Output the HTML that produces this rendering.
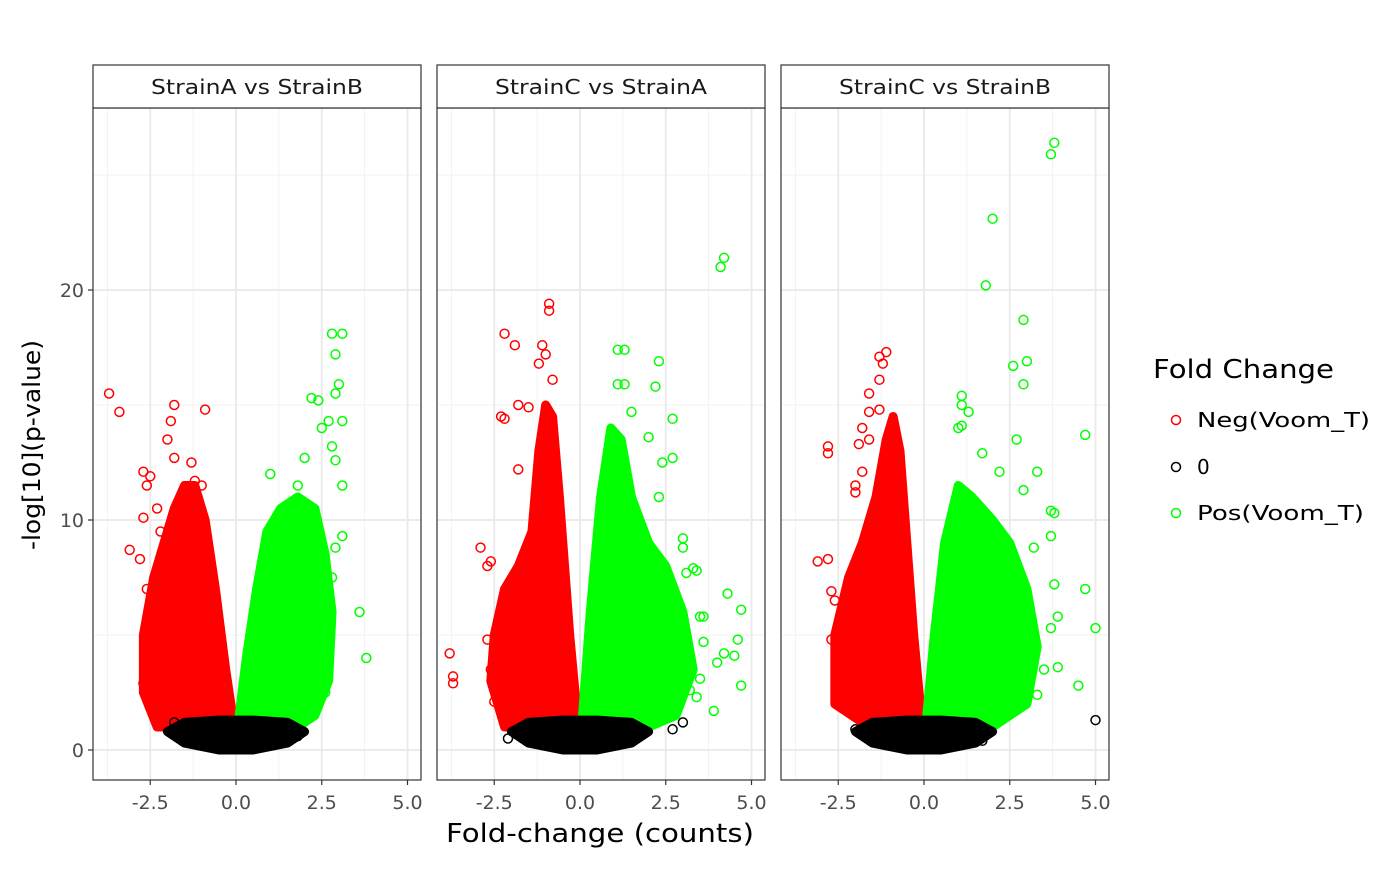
<!DOCTYPE html>
<html><head><meta charset="utf-8"><style>
body{margin:0;background:#fff;}
svg text{font-family:"DejaVu Sans","Liberation Sans",sans-serif;}
</style></head><body>
<svg id="chart" width="1400" height="865" xmlns="http://www.w3.org/2000/svg">
<g id="panels"></g>
<text transform="translate(40,445) rotate(-90)" text-anchor="middle" font-size="24" textLength="210" lengthAdjust="spacingAndGlyphs" fill="#000">-log[10](p-value)</text>
<text x="600" y="842" text-anchor="middle" font-size="26" textLength="308" lengthAdjust="spacingAndGlyphs" fill="#000">Fold-change (counts)</text>
<g>
<text x="1153" y="378" font-size="26" textLength="181" lengthAdjust="spacingAndGlyphs">Fold Change</text>
<circle cx="1176" cy="420" r="4.5" fill="none" stroke="#ff0000" stroke-width="1.5"/>
<text x="1197" y="427" font-size="20" textLength="173" lengthAdjust="spacingAndGlyphs">Neg(Voom_T)</text>
<circle cx="1176" cy="467" r="4.5" fill="none" stroke="#000" stroke-width="1.5"/>
<text x="1197" y="474" font-size="20">0</text>
<circle cx="1176" cy="513" r="4.5" fill="none" stroke="#00ff00" stroke-width="1.5"/>
<text x="1197" y="520" font-size="20" textLength="167" lengthAdjust="spacingAndGlyphs">Pos(Voom_T)</text>
</g>
</svg>
<script>
const panelTitles = ["StrainA vs StrainB","StrainC vs StrainA","StrainC vs StrainB"];
const xTicks = [-2.5,0,2.5,5];
const xTickLabels = ["-2.5","0.0","2.5","5.0"];
const yTicks = [0,10,20];
const yTickLabels = ["0","10","20"];
// dense-core envelopes [fold-change, -log10 p]
const negCore1 = [[-0.05,1],[-0.3,3.5],[-0.6,7],[-0.9,10],[-1.2,11.5],[-1.5,11.5],[-1.8,10.5],[-2.1,9],[-2.4,7.5],[-2.7,5],[-2.7,2.5],[-2.3,1]];
const posCore1 = [[0.05,1],[0.3,4],[0.6,7],[0.9,9.5],[1.3,10.5],[1.8,11],[2.3,10.5],[2.6,8.5],[2.8,6],[2.7,3],[2.3,1.5],[1.8,1]];
const negCore2 = [[-0.05,1],[-0.3,5],[-0.6,11],[-0.8,14.5],[-1.0,15],[-1.2,13],[-1.4,9.5],[-1.8,8],[-2.2,7],[-2.5,5],[-2.6,3],[-2.2,1]];
const posCore2 = [[0.05,1],[0.3,6],[0.6,11],[0.9,14],[1.2,13.5],[1.5,11],[2.0,9],[2.5,8],[3.0,6],[3.3,3.5],[2.8,1.5],[2,1]];
const negCore3 = [[-0.05,1],[-0.3,5],[-0.5,9],[-0.7,13],[-0.9,14.5],[-1.1,13.5],[-1.4,11],[-1.8,9],[-2.2,7.5],[-2.6,5],[-2.6,2],[-1.6,1]];
const posCore3 = [[0.05,1],[0.3,5],[0.6,9],[1.0,11.5],[1.4,11],[2.0,10],[2.5,9],[3.0,7],[3.3,4.5],[3.0,2],[2,1]];
const zeroCore = [[-2.0,0.8],[-1.5,1.2],[-0.5,1.3],[0.5,1.3],[1.5,1.2],[2.0,0.8],[1.5,0.3],[0.5,0],[-0.5,0],[-1.5,0.3]];
const negPts1 = [[-3.7,15.5],[-3.4,14.7],[-1.8,15],[-0.9,14.8],[-1.9,14.3],[-2.0,13.5],[-1.8,12.7],[-2.7,12.1],[-2.5,11.9],[-2.6,11.5],[-3.1,8.7],[-2.7,10.1],[-2.8,8.3],[-2.6,7],[-2.7,2.9],[-2.5,3.8],[-1.3,12.5],[-1.2,11.7],[-1.0,11.5],[-2.3,10.5],[-2.2,9.5]];
const posPts1 = [[2.8,18.1],[3.1,18.1],[2.9,17.2],[3.0,15.9],[2.4,15.2],[2.9,15.5],[2.2,15.3],[2.7,14.3],[3.1,14.3],[2.5,14],[2.8,13.2],[2.9,12.6],[3.1,11.5],[1.0,12.0],[2.0,12.7],[1.8,11.5],[3.1,9.3],[3.6,6],[3.8,4],[2.6,2.5],[2.3,2],[2.8,7.5],[2.9,8.8]];
const zeroPts1 = [[1.8,0.6],[-1.8,1.2]];
const negPts2 = [[-0.9,19.4],[-0.9,19.1],[-2.2,18.1],[-1.1,17.6],[-1.9,17.6],[-1.0,17.2],[-1.2,16.8],[-0.8,16.1],[-1.8,15],[-2.3,14.5],[-2.2,14.4],[-1.5,14.9],[-1.8,12.2],[-2.9,8.8],[-2.7,8.0],[-2.6,8.2],[-3.8,4.2],[-3.7,3.2],[-3.7,2.9],[-2.5,2.1],[-2.6,3.5],[-2.7,4.8]];
const posPts2 = [[4.2,21.4],[4.1,21.0],[1.1,17.4],[1.3,17.4],[2.3,16.9],[1.1,15.9],[1.3,15.9],[2.2,15.8],[1.5,14.7],[2.7,14.4],[2.0,13.6],[2.4,12.5],[2.7,12.7],[2.3,11],[3.0,9.2],[3.0,8.8],[3.4,7.8],[3.1,7.7],[3.3,7.9],[4.3,6.8],[4.7,6.1],[3.6,5.8],[3.5,5.8],[4.6,4.8],[4.0,3.8],[4.2,4.2],[4.5,4.1],[3.6,4.7],[3.5,3.1],[3.2,2.6],[3.9,1.7],[4.7,2.8],[3.4,2.3]];
const zeroPts2 = [[3.0,1.2],[2.7,0.9],[-2.1,0.5]];
const negPts3 = [[-1.1,17.3],[-1.3,17.1],[-1.2,16.8],[-1.3,16.1],[-1.6,15.5],[-1.6,14.7],[-1.3,14.8],[-1.8,14.0],[-1.6,13.5],[-1.9,13.3],[-2.8,13.2],[-2.8,12.9],[-1.8,12.1],[-2.0,11.5],[-2.0,11.2],[-3.1,8.2],[-2.8,8.3],[-2.7,6.9],[-2.6,6.5],[-2.7,4.8],[-2.5,2.2],[-2.2,3.8],[-2.1,3.5]];
const posPts3 = [[3.8,26.4],[3.7,25.9],[2.0,23.1],[1.8,20.2],[2.9,18.7],[3.0,16.9],[2.6,16.7],[2.9,15.9],[1.1,15.4],[1.1,15.0],[1.3,14.7],[1.1,14.1],[1.0,14],[4.7,13.7],[2.7,13.5],[1.7,12.9],[3.3,12.1],[2.2,12.1],[2.9,11.3],[3.7,10.4],[3.8,10.3],[3.2,8.8],[3.7,9.3],[3.8,7.2],[4.7,7],[3.9,5.8],[5.0,5.3],[3.7,5.3],[3.5,3.5],[3.9,3.6],[4.5,2.8],[3.3,2.4],[3.0,3.2],[2.7,2.2],[2.2,2]];
const zeroPts3 = [[5.0,1.3],[1.7,0.4],[-2.0,0.9]];

const panelData = [
 {neg:negCore1,pos:posCore1,np:negPts1,pp:posPts1,zp:zeroPts1},
 {neg:negCore2,pos:posCore2,np:negPts2,pp:posPts2,zp:zeroPts2},
 {neg:negCore3,pos:posCore3,np:negPts3,pp:posPts3,zp:zeroPts3}
];
const NS="http://www.w3.org/2000/svg";
const panelLeft=[93,437,781], panelW=328, plotTop=108, plotBot=780;
const yScale = v => 750 - 23*v;
function mk(tag, attrs, parent){const e=document.createElementNS(NS,tag);for(const k in attrs)e.setAttribute(k,attrs[k]);parent.appendChild(e);return e;}
const root=document.getElementById('panels');
panelData.forEach((d,i)=>{
  const L=panelLeft[i];
  const xScale = v => L + 143 + 34.3*v;
  const g=mk('g',{},root);
  
  
  mk('rect',{x:L,y:plotTop,width:panelW,height:plotBot-plotTop,fill:'#fff'},g);
  [-3.75,-1.25,1.25,3.75].forEach(v=>mk('line',{x1:xScale(v),x2:xScale(v),y1:plotTop,y2:plotBot,stroke:'#f2f2f2','stroke-width':1},g));
  [5,15,25].forEach(v=>mk('line',{x1:L,x2:L+panelW,y1:yScale(v),y2:yScale(v),stroke:'#f2f2f2','stroke-width':1},g));
  xTicks.forEach(v=>mk('line',{x1:xScale(v),x2:xScale(v),y1:plotTop,y2:plotBot,stroke:'#ebebeb','stroke-width':2},g));
  yTicks.forEach(v=>mk('line',{x1:L,x2:L+panelW,y1:yScale(v),y2:yScale(v),stroke:'#ebebeb','stroke-width':2},g));
  const poly=(arr,col,name)=>{const p=mk('polygon',{points:arr.map(q=>xScale(q[0])+','+yScale(q[1])).join(' '),fill:col,stroke:col,'stroke-width':9,'stroke-linejoin':'round'},g);
    
    };
  poly(d.neg,'#ff0000','neg-core');
  poly(d.pos,'#00ff00','pos-core');
  poly(zeroCore,'#000','zero-core');
  const pts=(arr,col,name)=>arr.forEach(q=>{const c=mk('circle',{cx:xScale(q[0]),cy:yScale(q[1]),r:4.5,fill:'none',stroke:col,'stroke-width':1.5},g);
    
    });
  pts(d.np,'#ff0000','neg-point');
  pts(d.pp,'#00ff00','pos-point');
  pts(d.zp,'#000','zero-point');
  mk('rect',{x:L,y:plotTop,width:panelW,height:plotBot-plotTop,fill:'none',stroke:'#333','stroke-width':1.2},g);
  const s=mk('rect',{x:L,y:65,width:panelW,height:43,fill:'#fff',stroke:'#333','stroke-width':1.2},g);
  
  
  const t=mk('text',{x:L+panelW/2,y:94,'text-anchor':'middle','font-size':20,fill:'#1a1a1a',textLength:212,lengthAdjust:'spacingAndGlyphs'},g);
  t.textContent=panelTitles[i];
  
  
  xTicks.forEach((v,k)=>{mk('line',{x1:xScale(v),x2:xScale(v),y1:plotBot,y2:plotBot+5,stroke:'#333','stroke-width':1.2},g);
    const tt=mk('text',{x:xScale(v),y:809,'text-anchor':'middle','font-size':19,fill:'#4d4d4d'},g);tt.textContent=xTickLabels[k];
    
    });
  if(i===0){yTicks.forEach((v,k)=>{mk('line',{x1:L-5,x2:L,y1:yScale(v),y2:yScale(v),stroke:'#333','stroke-width':1.2},g);
    const tt=mk('text',{x:L-9,y:yScale(v)+7,'text-anchor':'end','font-size':19,fill:'#4d4d4d'},g);tt.textContent=yTickLabels[k];
    
    });}
});
</script>
</body></html>
